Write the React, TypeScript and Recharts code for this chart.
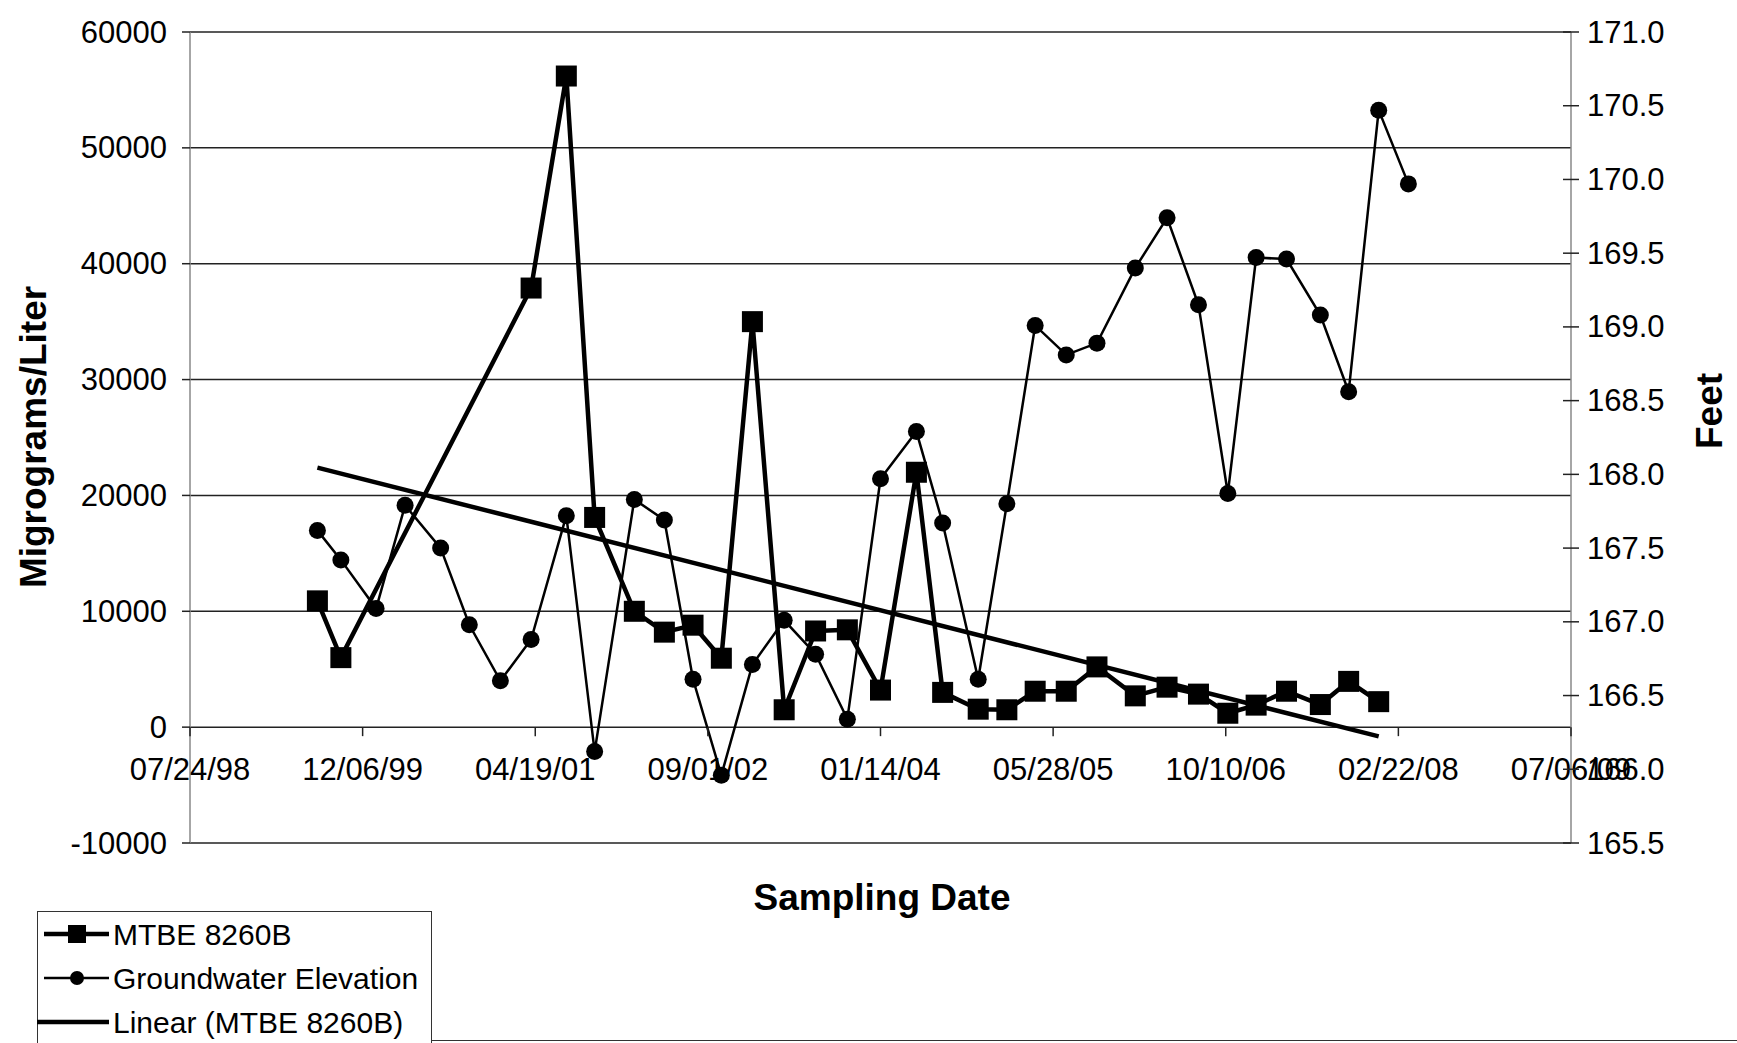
import React from "react";
import { LineChart, Line, XAxis, YAxis, CartesianGrid } from "recharts";

const W = 1737;
const H = 1043;
const PLOT_L = 190;
const PLOT_R = 1571;
const PLOT_T = 32;
const PLOT_B = 843;
const FONT = '"Liberation Sans", Arial, sans-serif';

// sampling dates (MM/DD/YY)
const mtbeDates = [
  "07/28/99", "10/04/99", "04/07/01", "07/18/01", "10/08/01", "01/31/02",
  "04/28/02", "07/20/02", "10/10/02", "01/08/03", "04/10/03", "07/10/03",
  "10/10/03", "01/14/04", "04/27/04", "07/12/04", "10/23/04", "01/14/05",
  "04/06/05", "07/05/05", "10/02/05", "01/21/06", "04/23/06", "07/23/06",
  "10/16/06", "01/06/07", "04/04/07", "07/11/07", "10/01/07", "12/27/07",
];
const mtbeValues = [
  10900, 6000, 37900, 56200, 18100, 10000, 8200, 8800, 5950, 35000, 1500,
  8300, 8400, 3200, 22000, 3000, 1550, 1500, 3100, 3100, 5200, 2700, 3450,
  2850, 1200, 1900, 3100, 1950, 3950, 2200,
];

const gwDates = [
  "07/28/99", "10/04/99", "01/14/00", "04/07/00", "07/19/00", "10/10/00",
  "01/08/01", "04/07/01", "07/18/01", "10/08/01", "01/31/02", "04/28/02",
  "07/20/02", "10/10/02", "01/08/03", "04/10/03", "07/10/03", "10/10/03",
  "01/14/04", "04/27/04", "07/12/04", "10/23/04", "01/14/05", "04/06/05",
  "07/05/05", "10/02/05", "01/21/06", "04/23/06", "07/23/06", "10/16/06",
  "01/06/07", "04/04/07", "07/11/07", "10/01/07", "12/27/07", "03/22/08",
];
const gwValues = [
  167.62, 167.42, 167.09, 167.79, 167.5, 166.98, 166.6, 166.88, 167.72,
  166.12, 167.83, 167.69, 166.61, 165.96, 166.71, 167.01, 166.78, 166.34,
  167.97, 168.29, 167.67, 166.61, 167.8, 169.01, 168.81, 168.89, 169.4,
  169.74, 169.15, 167.87, 169.47, 169.46, 169.08, 168.56, 170.47, 169.97,
];

// linear trend of MTBE, read at its two ends
const trendDates = ["07/28/99", "12/27/07"];
const trendValues = [22400, -800];

const xTickLabels = [
  "07/24/98", "12/06/99", "04/19/01", "09/01/02", "01/14/04",
  "05/28/05", "10/10/06", "02/22/08", "07/06/09",
];
const mgTicks = [-10000, 0, 10000, 20000, 30000, 40000, 50000, 60000];
const feetTicks = [
  165.5, 166.0, 166.5, 167.0, 167.5, 168.0, 168.5, 169.0, 169.5, 170.0,
  170.5, 171.0,
];

const toDay = (s: string) => {
  const [m, d, y] = s.split("/").map(Number);
  const yy = y < 50 ? 2000 + y : 1900 + y;
  return Date.UTC(yy, m - 1, d) / 86400000;
};
const pad = (n: number) => (n < 10 ? "0" + n : "" + n);
const fmtDay = (day: number) => {
  const dt = new Date(Math.round(day) * 86400000);
  return `${pad(dt.getUTCMonth() + 1)}/${pad(dt.getUTCDate())}/${pad(dt.getUTCFullYear() % 100)}`;
};

const mtbeRows = mtbeDates.map((d, i) => ({ t: toDay(d), v: mtbeValues[i] }));
const gwRows = gwDates.map((d, i) => ({ t: toDay(d), v: gwValues[i] }));
const trendRows = trendDates.map((d, i) => ({ t: toDay(d), v: trendValues[i] }));
const xTicks = xTickLabels.map(toDay);

const ZERO_Y = PLOT_T + ((PLOT_B - PLOT_T) * 60000) / 70000;
const TICK_FS = 31;

const XTick = (p: any) => (
  <g>
    <line x1={p.x} x2={p.x} y1={ZERO_Y} y2={ZERO_Y + 9} stroke="#222" strokeWidth={1.5} />
    <text x={p.x} y={ZERO_Y + 42} textAnchor="middle" dominantBaseline="central"
      fontSize={TICK_FS} fontFamily={FONT} fill="#000">
      {fmtDay(p.payload.value)}
    </text>
  </g>
);

const MgTick = (p: any) => (
  <g>
    <line x1={PLOT_L - 8} x2={PLOT_L} y1={p.y} y2={p.y} stroke="#222" strokeWidth={1.5} />
    <text x={PLOT_L - 23} y={p.y} textAnchor="end" dominantBaseline="central"
      fontSize={TICK_FS} fontFamily={FONT} fill="#000">
      {p.payload.value}
    </text>
  </g>
);

const FeetTick = (p: any) => (
  <g>
    <line x1={PLOT_R - 8} x2={PLOT_R + 8} y1={p.y} y2={p.y} stroke="#222" strokeWidth={1.5} />
    <text x={PLOT_R + 16} y={p.y} textAnchor="start" dominantBaseline="central"
      fontSize={TICK_FS} fontFamily={FONT} fill="#000">
      {Number(p.payload.value).toFixed(1)}
    </text>
  </g>
);

const title = (txt: string, x: number, y: number, rotate: boolean) => (
  <text x={x} y={y} textAnchor="middle" dominantBaseline="central"
    transform={rotate ? `rotate(-90, ${x}, ${y})` : undefined}
    fontSize={37} fontWeight="bold" fontFamily={FONT} fill="#000">
    {txt}
  </text>
);

const square = (p: any) =>
  p.cx == null ? null : (
    <rect key={"s" + p.index} x={p.cx - 10.5} y={p.cy - 10.5} width={21} height={21} fill="#000" />
  );
const circle = (p: any) =>
  p.cx == null ? null : <circle key={"c" + p.index} cx={p.cx} cy={p.cy} r={8.5} fill="#000" />;

const legendItems = [
  { name: "MTBE 8260B", kind: "square" },
  { name: "Groundwater Elevation", kind: "circle" },
  { name: "Linear (MTBE 8260B)", kind: "line" },
];

export default function App() {
  return (
    <div style={{ position: "absolute", left: 0, top: 0, width: W, height: H, overflow: "hidden", background: "#fff" }}>
      <LineChart width={W} height={H} margin={{ top: PLOT_T, right: 10, left: 20, bottom: H - PLOT_B - 60 }}>
        <CartesianGrid yAxisId="left" vertical={false} stroke="#222" strokeWidth={1.5} />
        <XAxis dataKey="t" type="number" domain={[xTicks[0], xTicks[xTicks.length - 1]]}
          ticks={xTicks} interval={0} allowDataOverflow height={60}
          tick={<XTick />} tickLine={false} axisLine={false} tickSize={0} tickMargin={0}
          label={{ content: () => title("Sampling Date", 882, 897, false) }} />
        <YAxis yAxisId="left" domain={[-10000, 60000]} ticks={mgTicks} interval={0}
          allowDataOverflow width={170} tick={<MgTick />} tickLine={false}
          axisLine={{ stroke: "#888", strokeWidth: 1.5 }}
          label={{ content: () => title("Migrograms/Liter", 33, 437, true) }} />
        <YAxis yAxisId="right" orientation="right" domain={[165.5, 171]} ticks={feetTicks}
          interval={0} allowDataOverflow width={W - PLOT_R - 10} tick={<FeetTick />}
          tickLine={false} axisLine={{ stroke: "#888", strokeWidth: 1.5 }}
          label={{ content: () => title("Feet", 1709, 411, true) }} />
        <Line data={trendRows} dataKey="v" yAxisId="left" type="linear" stroke="#000"
          strokeWidth={4.5} dot={false} isAnimationActive={false} />
        <Line data={gwRows} dataKey="v" yAxisId="right" type="linear" stroke="#000"
          strokeWidth={2.5} dot={circle} isAnimationActive={false} />
        <Line data={mtbeRows} dataKey="v" yAxisId="left" type="linear" stroke="#000"
          strokeWidth={4.5} dot={square} isAnimationActive={false} />
      </LineChart>

      <div style={{ position: "absolute", left: 37, top: 911, width: 395, height: 150,
        border: "1.5px solid #333", boxSizing: "border-box", background: "#fff" }}>
        <svg width={395} height={150} style={{ position: "absolute", left: -1.5, top: -1.5 }}>
          {legendItems.map((it, i) => {
            const cy = 23 + i * 44;
            return (
              <g key={it.name}>
                <line x1={it.kind === "line" ? 0 : 7} x2={72} y1={cy} y2={cy} stroke="#000"
                  strokeWidth={it.kind === "circle" ? 2.5 : 4.5} />
                {it.kind === "square" && <rect x={31} y={cy - 9} width={18} height={18} fill="#000" />}
                {it.kind === "circle" && <circle cx={40} cy={cy} r={7} fill="#000" />}
                <text x={76} y={cy} dominantBaseline="central" fontSize={30} fontFamily={FONT} fill="#000">
                  {it.name}
                </text>
              </g>
            );
          })}
        </svg>
      </div>
      <div style={{ position: "absolute", left: 432, top: 1040, width: W - 432, height: 0,
        borderTop: "1.5px solid #333" }} />
    </div>
  );
}
